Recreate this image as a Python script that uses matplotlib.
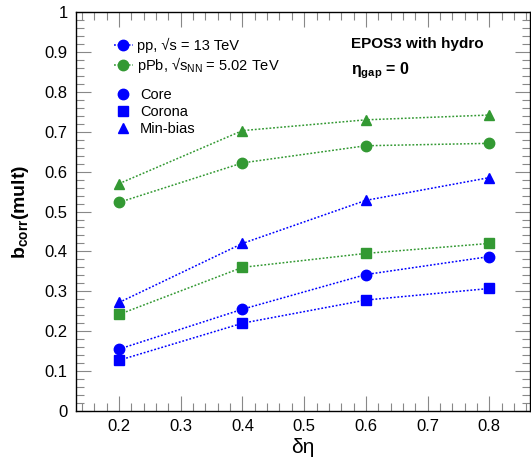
import matplotlib.pyplot as plt
from matplotlib.lines import Line2D
from matplotlib.ticker import MultipleLocator

plt.rcParams['font.family'] = ['Liberation Sans', 'DejaVu Sans']
plt.rcParams['mathtext.fontset'] = 'custom'
plt.rcParams['mathtext.rm'] = 'Liberation Sans'
plt.rcParams['mathtext.it'] = 'Liberation Sans:italic'
plt.rcParams['mathtext.bf'] = 'Liberation Sans:bold'

deta = [0.2, 0.4, 0.6, 0.8]

# pp 13 TeV
pp_core = [0.155, 0.255, 0.342, 0.387]
pp_corona = [0.127, 0.220, 0.278, 0.307]
pp_minbias = [0.272, 0.420, 0.528, 0.585]

# pPb 5.02 TeV
ppb_core = [0.523, 0.622, 0.665, 0.671]
ppb_corona = [0.242, 0.360, 0.395, 0.420]
ppb_minbias = [0.570, 0.703, 0.730, 0.742]

blue = '#0000ff'
green = '#339933'
dots = (0, (1.2, 1.2))
ms = 7.5

fig = plt.figure(figsize=(5.31, 4.68), dpi=100)
ax = fig.add_axes([0.143, 0.122, 0.855, 0.852])

def draw(y, col, mk):
    ax.plot(deta, y, ls=dots, lw=1.1, color=col, marker=mk,
            markersize=ms, markeredgecolor=col, markerfacecolor=col)

draw(pp_core, blue, 'o')
draw(pp_corona, blue, 's')
draw(pp_minbias, blue, '^')
draw(ppb_core, green, 'o')
draw(ppb_corona, green, 's')
draw(ppb_minbias, green, '^')

ax.set_xlim(0.13, 0.866)
ax.set_ylim(0, 1)
ax.xaxis.set_minor_locator(MultipleLocator(0.02))
ax.yaxis.set_minor_locator(MultipleLocator(0.02))
ax.set_xticks([0.2, 0.3, 0.4, 0.5, 0.6, 0.7, 0.8])
ax.set_xticklabels(['0.2', '0.3', '0.4', '0.5', '0.6', '0.7', '0.8'])
ax.set_yticks([0, 0.1, 0.2, 0.3, 0.4, 0.5, 0.6, 0.7, 0.8, 0.9, 1])
ax.set_yticklabels(['0', '0.1', '0.2', '0.3', '0.4', '0.5', '0.6', '0.7', '0.8', '0.9', '1'])
ax.tick_params(which='both', direction='in', top=True, right=True,
               color='#888888', labelsize=12, pad=6)
ax.tick_params(which='major', length=11, width=0.8)
ax.tick_params(which='minor', length=6, width=0.8)
for s in ax.spines.values():
    s.set_linewidth(1.0)

ax.set_xlabel('δη', fontsize=15, labelpad=3)
ax.set_ylabel(r'$\mathbf{b_{corr}}$(mult)', fontsize=14, fontweight='bold', labelpad=10)

# system legend
sys_handles = [
    Line2D([], [], color=blue, ls=dots, lw=1.1, marker='o', markersize=ms),
    Line2D([], [], color=green, ls=dots, lw=1.1, marker='o', markersize=ms),
]
sys_labels = ['pp, √s = 13 TeV', r'pPb, √$\mathregular{s_{NN}}$ = 5.02 TeV']
leg1 = ax.legend(sys_handles, sys_labels, loc='upper left', bbox_to_anchor=(0.07, 0.95),
                 frameon=False, fontsize=10.5, handlelength=1.3, handletextpad=0.3,
                 labelspacing=0.15, borderaxespad=0)
ax.add_artist(leg1)

# marker-type legend
typ_handles = [
    Line2D([], [], color=blue, ls='none', marker='o', markersize=ms),
    Line2D([], [], color=blue, ls='none', marker='s', markersize=ms),
    Line2D([], [], color=blue, ls='none', marker='^', markersize=ms),
]
ax.legend(typ_handles, ['Core', 'Corona', 'Min-bias'], loc='upper left',
          bbox_to_anchor=(0.077, 0.825), frameon=False, fontsize=10.5,
          handlelength=0.8, handletextpad=0.8, labelspacing=0.2, borderaxespad=0)

ax.text(0.605, 0.91, 'EPOS3 with hydro', transform=ax.transAxes,
        fontsize=11, fontweight='bold')
ax.text(0.605, 0.845, r'η$\mathbf{_{gap}}$ = 0', transform=ax.transAxes,
        fontsize=11.5, fontweight='bold')

fig.savefig('out.png', dpi=100)
